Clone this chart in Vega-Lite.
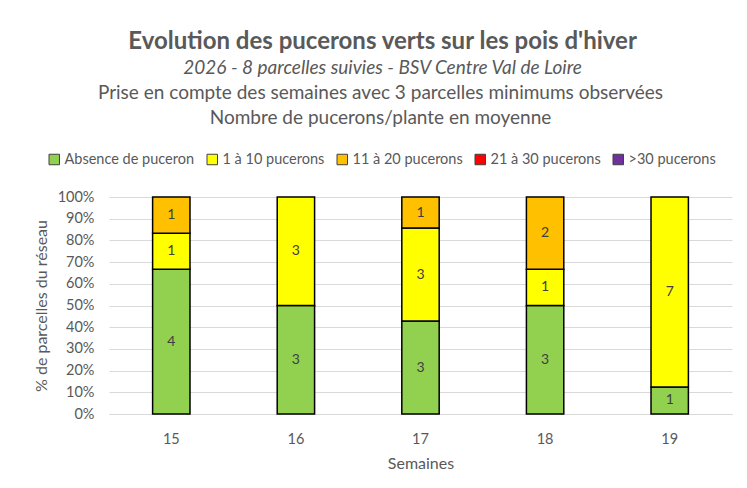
{
  "$schema": "https://vega.github.io/schema/vega-lite/v6.json",
  "background": "white",
  "padding": {"left": 33, "top": 30, "right": 5, "bottom": 5},
  "config": {"view": {"stroke": null}},
  "title": {
    "text": "Evolution des pucerons verts sur les pois d'hiver",
    "subtitle": "2026 - 8 parcelles suivies - BSV Centre Val de Loire",
    "font": "Lato", "fontSize": 24, "fontWeight": "bold", "color": "#595959",
    "subtitleFont": "Lato", "subtitleFontSize": 19, "subtitleFontStyle": "italic", "subtitleColor": "#595959",
    "anchor": "middle", "offset": 6, "subtitlePadding": 5
  },
  "data": {"values": [
    {"semaine": "15", "categorie": "Absence de puceron", "ordre": 1, "nombre": 4},
    {"semaine": "15", "categorie": "1 à 10 pucerons", "ordre": 2, "nombre": 1},
    {"semaine": "15", "categorie": "11 à 20 pucerons", "ordre": 3, "nombre": 1},
    {"semaine": "16", "categorie": "Absence de puceron", "ordre": 1, "nombre": 3},
    {"semaine": "16", "categorie": "1 à 10 pucerons", "ordre": 2, "nombre": 3},
    {"semaine": "17", "categorie": "Absence de puceron", "ordre": 1, "nombre": 3},
    {"semaine": "17", "categorie": "1 à 10 pucerons", "ordre": 2, "nombre": 3},
    {"semaine": "17", "categorie": "11 à 20 pucerons", "ordre": 3, "nombre": 1},
    {"semaine": "18", "categorie": "Absence de puceron", "ordre": 1, "nombre": 3},
    {"semaine": "18", "categorie": "1 à 10 pucerons", "ordre": 2, "nombre": 1},
    {"semaine": "18", "categorie": "11 à 20 pucerons", "ordre": 3, "nombre": 2},
    {"semaine": "19", "categorie": "Absence de puceron", "ordre": 1, "nombre": 1},
    {"semaine": "19", "categorie": "1 à 10 pucerons", "ordre": 2, "nombre": 7}
  ]},
  "resolve": {"legend": {"color": "independent"}},
  "vconcat": [
    {
      "title": {
        "text": ["Prise en compte des semaines avec 3 parcelles minimums observées", "Nombre de pucerons/plante en moyenne"],
        "font": "Lato", "fontSize": 19, "fontWeight": "normal", "color": "#595959",
        "anchor": "middle", "frame": "group", "dx": -40, "lineHeight": 25, "offset": 24
      },
      "width": 623,
      "height": 217,
      "transform": [
        {"stack": "nombre", "groupby": ["semaine"], "sort": [{"field": "ordre", "order": "ascending"}], "offset": "normalize", "as": ["y0", "y1"]},
        {"calculate": "(datum.y0 + datum.y1) / 2", "as": "ymid"}
      ],
      "encoding": {
        "x": {
          "field": "semaine", "type": "nominal", "sort": ["15", "16", "17", "18", "19"],
          "scale": {"paddingInner": 0.7, "paddingOuter": 0.35},
          "axis": {
            "title": "Semaines", "labelAngle": 0, "ticks": false, "labelPadding": 18,
            "domainColor": "#d9d9d9", "labelFont": "Lato", "labelFontSize": 14.5, "labelColor": "#595959",
            "titleFont": "Lato", "titleFontSize": 16, "titleFontWeight": "normal", "titleColor": "#595959", "titlePadding": 10
          }
        }
      },
      "layer": [
        {
          "mark": {"type": "bar", "stroke": "black", "strokeWidth": 1.5},
          "encoding": {
            "y": {
              "field": "y0", "type": "quantitative", "scale": {"domain": [0, 1]},
              "axis": {
                "title": "% de parcelles du réseau", "format": ".0%", "values": [0, 0.1, 0.2, 0.3, 0.4, 0.5, 0.6, 0.7, 0.8, 0.9, 1],
                "labelOverlap": false, "domain": false, "ticks": false, "gridColor": "#d9d9d9", "labelPadding": 15,
                "labelFont": "Lato", "labelFontSize": 14.5, "labelColor": "#595959",
                "titleFont": "Lato", "titleFontSize": 16, "titleFontWeight": "normal", "titleColor": "#595959", "titlePadding": 8
              }
            },
            "y2": {"field": "y1"},
            "color": {
              "field": "categorie", "type": "nominal",
              "scale": {
                "domain": ["Absence de puceron", "1 à 10 pucerons", "11 à 20 pucerons", "21 à 30 pucerons", ">30 pucerons"],
                "range": ["#92D050", "#FFFF00", "#FFC000", "#FF0000", "#7030A0"]
              },
              "legend": {
                "orient": "none", "legendX": -62, "legendY": -45, "direction": "horizontal", "title": null, "symbolType": "square",
                "symbolStrokeColor": "#404040", "symbolStrokeWidth": 1, "symbolSize": 110, "symbolOpacity": 1,
                "labelFont": "Lato", "labelFontSize": 14.5, "labelColor": "#595959", "columnPadding": 10, "labelOffset": 3
              }
            }
          }
        },
        {
          "mark": {"type": "text", "font": "Lato", "fontSize": 14, "color": "#404040"},
          "encoding": {
            "y": {
              "field": "ymid", "type": "quantitative",
              "axis": {
                "title": "% de parcelles du réseau", "format": ".0%", "values": [0, 0.1, 0.2, 0.3, 0.4, 0.5, 0.6, 0.7, 0.8, 0.9, 1],
                "labelOverlap": false, "domain": false, "ticks": false, "gridColor": "#d9d9d9", "labelPadding": 15,
                "labelFont": "Lato", "labelFontSize": 14.5, "labelColor": "#595959",
                "titleFont": "Lato", "titleFontSize": 16, "titleFontWeight": "normal", "titleColor": "#595959", "titlePadding": 8
              }
            },
            "text": {"field": "nombre", "type": "quantitative"}
          }
        }
      ]
    }
  ]
}
